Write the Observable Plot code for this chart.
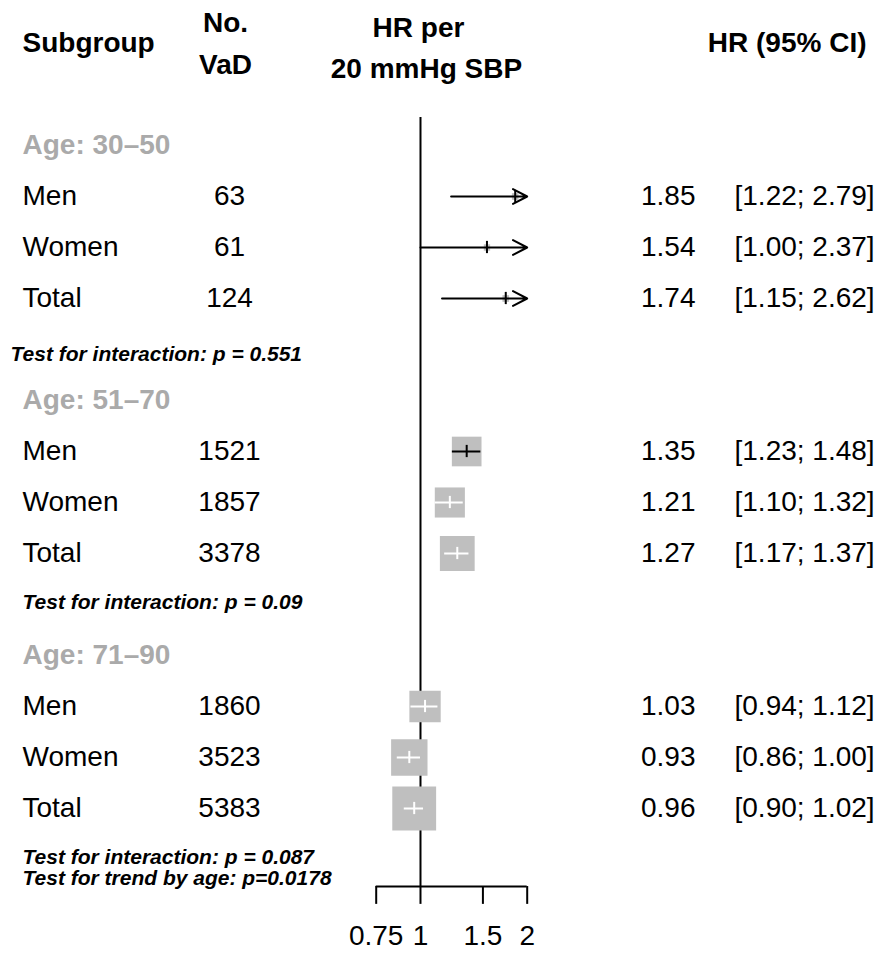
<!DOCTYPE html>
<html>
<head>
<meta charset="utf-8">
<script src="https://cdn.jsdelivr.net/npm/d3@7"></script>
<script src="https://cdn.jsdelivr.net/npm/@observablehq/plot@0.6"></script>
<style>
  html, body { margin: 0; padding: 0; background: #fff; }
  #chart svg { display: block; }
</style>
</head>
<body>
<div id="chart"></div>
<script>
// ---- data ----
const ageGroups = ["Age: 30\u201350", "Age: 51\u201370", "Age: 71\u201390"];
const subgroups = ["Men", "Women", "Total"];
const nVaD  = [63, 61, 124, 1521, 1857, 3378, 1860, 3523, 5383];
const hr    = [1.85, 1.54, 1.74, 1.35, 1.21, 1.27, 1.03, 0.93, 0.96];
const lower = [1.22, 1.00, 1.15, 1.23, 1.10, 1.17, 0.94, 0.86, 0.90];
const upper = [2.79, 2.37, 2.62, 1.48, 1.32, 1.37, 1.12, 1.00, 1.02];
const interactionP = ["0.551", "0.09", "0.087"];
const trendP = "0.0178";
const xTicks = [0.75, 1, 1.5, 2];
const xLabels = ["0.75", "1", "1.5", "2"];

// ---- layout ----
const W = 884, H = 954;
const xMin = xTicks[0], xMax = xTicks[xTicks.length - 1];
const xRange = [375.7, 526.7];
const pxPerLog = (xRange[1] - xRange[0]) / Math.log(xMax / xMin);
const rowPx = 51;
const y0 = 145;
const font = "'Liberation Sans', Arial, Helvetica, sans-serif";
const boxK = 1.4;  // box side (px) = boxK / SE

const rows = [];
ageGroups.forEach((g, gi) => {
  subgroups.forEach((s, si) => {
    const i = gi * 3 + si;
    const se = (Math.log(upper[i]) - Math.log(lower[i])) / (2 * 1.96);
    const side = boxK / se;
    const ciPx = (Math.log(Math.min(upper[i], xMax)) - Math.log(Math.max(lower[i], xMin))) * pxPerLog;
    rows.push({
      label: s, n: nVaD[i], hr: hr[i], lower: lower[i], upper: upper[i],
      row: gi * 5 + si + 1, side,
      inside: (side - ciPx) > 1.5 ? "white" : "black",
      hrText: hr[i].toFixed(2),
      ciText: `[${lower[i].toFixed(2)}; ${upper[i].toFixed(2)}]`
    });
  });
});
const groupRows = ageGroups.map((g, gi) => ({label: g, row: gi * 5}));
const testRowY = [4.1, 8.96, 13.96];
const tests = interactionP.map((p, i) => ({
  label: `Test for interaction: p = ${p}`, row: testRowY[i]
}));
const trend = [{label: `Test for trend by age: p=${trendP}`, row: 14.37}];
const axisRow = 14.53, tickEnd = 14.88, labelRow = 15.5, refTop = -0.55;
const headerRow = -2;

const ciInside = rows.filter(d => d.upper <= xMax && d.lower >= xMin);
const ciArrow = rows.filter(d => d.upper > xMax);

const txt = (data, opts) => Plot.text(data, {
  frameAnchor: "left", fontFamily: font, fontSize: 28, fill: "black", ...opts
});
const testOpts = {y: "row", text: "label", fontSize: 21, fontWeight: "bold",
  fontStyle: "italic", textAnchor: "start"};

const chart = Plot.plot({
  width: W, height: H,
  marginTop: 0, marginRight: 0, marginBottom: 0, marginLeft: 0,
  style: {fontFamily: font, background: "white"},
  x: {type: "log", domain: [xMin, xMax], range: xRange, axis: null},
  y: {type: "linear", domain: [0, 14], range: [y0, y0 + 14 * rowPx], axis: null},
  r: {type: "linear", domain: [0, 100], range: [0, 100]},
  marks: [
    // reference line at HR = 1
    Plot.ruleX([1], {x: d => d, y1: refTop, y2: axisRow, stroke: "black", strokeWidth: 2}),
    // boxes
    Plot.dot(rows, {x: "hr", y: "row", symbol: "square",
      r: d => d.side / Math.sqrt(Math.PI), fill: "#bfbfbf", stroke: "none"}),
    // CI lines
    Plot.ruleY(ciInside, {y: "row", x1: "lower", x2: "upper",
      stroke: d => d.inside, strokeWidth: 2}),
    Plot.arrow(ciArrow, {x1: "lower", x2: d => Math.min(d.upper, xMax), y1: "row", y2: "row",
      stroke: "black", strokeWidth: 2, headLength: 12, headAngle: 55}),
    // point estimate tick
    Plot.ruleX(rows, {x: "hr", y1: d => d.row - 0.12, y2: d => d.row + 0.12,
      stroke: d => d.inside, strokeWidth: 2}),
    // axis
    Plot.ruleY([axisRow], {y: d => d, x1: xMin, x2: xMax, stroke: "black", strokeWidth: 2}),
    Plot.ruleX(xTicks, {x: d => d, y1: axisRow, y2: tickEnd, stroke: "black", strokeWidth: 2}),
    Plot.text(xTicks, {x: d => d, y: labelRow, text: (d, i) => xLabels[i],
      fontFamily: font, fontSize: 28, fill: "black"}),
    // headers
    txt([0], {y: headerRow, text: ["Subgroup"], dx: 22, fontWeight: "bold", textAnchor: "start"}),
    txt([0], {y: -2.41, text: ["No."], dx: 225, fontWeight: "bold", textAnchor: "middle"}),
    txt([0], {y: -1.57, text: ["VaD"], dx: 225, fontWeight: "bold", textAnchor: "middle"}),
    txt([0], {y: -2.31, text: ["HR per"], dx: 418, fontWeight: "bold", textAnchor: "middle"}),
    txt([0], {y: -1.49, text: ["20 mmHg SBP"], dx: 426, fontWeight: "bold", textAnchor: "middle"}),
    txt([0], {y: headerRow, text: ["HR (95% CI)"], dx: 866, fontWeight: "bold", textAnchor: "end"}),
    // group labels
    txt(groupRows, {y: "row", text: "label", dx: 22, fontWeight: "bold", fill: "#aaaaaa", textAnchor: "start"}),
    // row texts
    txt(rows, {y: "row", text: "label", dx: 22, textAnchor: "start"}),
    txt(rows, {y: "row", text: d => String(d.n), dx: 229, textAnchor: "middle"}),
    txt(rows, {y: "row", text: "hrText", dx: 695, textAnchor: "end"}),
    txt(rows, {y: "row", text: "ciText", dx: 734, textAnchor: "start"}),
    // tests
    txt(tests.slice(0, 1), {...testOpts, dx: 10}),
    txt(tests.slice(1), {...testOpts, dx: 22}),
    txt(trend, {...testOpts, dx: 22})
  ]
});
document.getElementById("chart").append(chart);
</script>
</body>
</html>
